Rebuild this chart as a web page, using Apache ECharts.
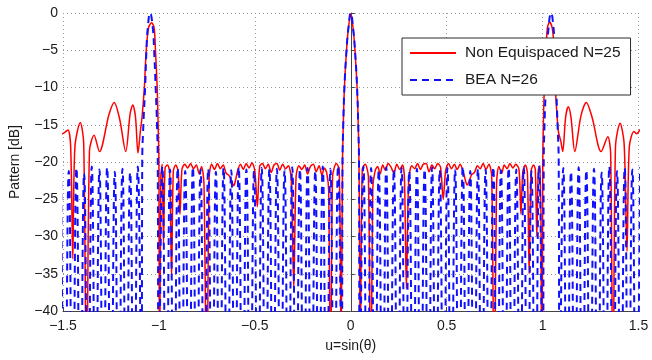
<!DOCTYPE html>
<html>
<head>
<meta charset="utf-8">
<script src="https://cdn.jsdelivr.net/npm/echarts@6/dist/echarts.min.js"></script>
<style>
  html, body { margin: 0; padding: 0; background: #fff; }
  #chart { width: 652px; height: 360px; }
</style>
</head>
<body>
<div id="chart"></div>
<script>
// tick values
var xTicks = [-1.5, -1, -0.5, 0, 0.5, 1, 1.5];
var yTicks = [-40, -35, -30, -25, -20, -15, -10, -5, 0];

// --- Non Equispaced N=25 (red), [u, dB] ---
var neLeftOuter = [[-1.51,-16.3],[-1.495,-16.1],[-1.474,-15.7],[-1.46,-18],[-1.449,-33],[-1.438,-18],[-1.41,-14.7],[-1.392,-17.5],[-1.377,-55],[-1.362,-18.5],[-1.338,-16.4],[-1.31,-18.6],[-1.26,-13.6],[-1.233,-12.0],[-1.205,-14.2],[-1.173,-18.6],[-1.15,-13.5],[-1.136,-12.35],[-1.122,-14],[-1.109,-18.8]];
var neLeftLobe = [[-1.096,-15.7],[-1.088,-14],[-1.076,-10],[-1.066,-5],[-1.054,-2],[-1.038,-1.3],[-1.025,-2],[-1.018,-5],[-1.009,-10],[-1.004,-15],[-1.0,-20],[-0.997,-55]];
var neLeftInner = [[-0.99,-22],[-0.983,-20.3],[-0.976,-31],[-0.968,-20.8],[-0.955,-20.4],[-0.944,-21.5],[-0.934,-35.4],[-0.925,-21.2],[-0.912,-20.4],[-0.9,-21.3],[-0.89,-27],[-0.88,-21],[-0.865,-20.3],[-0.85,-20.8],[-0.835,-20.2],[-0.82,-20.9],[-0.805,-20.4],[-0.79,-21.6],[-0.778,-20.6],[-0.765,-23],[-0.751,-55],[-0.738,-22],[-0.725,-20.3],[-0.71,-21],[-0.695,-20.2],[-0.68,-20.9],[-0.665,-20.4],[-0.65,-21.5],[-0.635,-21.8],[-0.62,-22.6],[-0.61,-23.2],[-0.6,-22.4],[-0.59,-21.2],[-0.575,-20.3],[-0.56,-21],[-0.545,-20.2],[-0.53,-20.8],[-0.515,-20.1],[-0.5,-21.2],[-0.487,-26],[-0.475,-20.6],[-0.46,-20.2],[-0.445,-20.9],[-0.43,-20.3],[-0.415,-21.4],[-0.4,-20.4],[-0.385,-20.2],[-0.37,-21.1],[-0.355,-20.3],[-0.34,-20.9],[-0.325,-20.5],[-0.31,-22.5],[-0.297,-37],[-0.285,-22],[-0.27,-20.5],[-0.255,-21],[-0.24,-20.4],[-0.225,-21.6],[-0.21,-20.6],[-0.195,-20.3],[-0.18,-21.3],[-0.165,-20.5],[-0.15,-21.8],[-0.138,-20.8],[-0.125,-21.5],[-0.115,-24],[-0.105,-55],[-0.095,-22],[-0.075,-20.2],[-0.06,-21]];
var neMainLobe = [[-0.05,-45],[-0.043,-20],[-0.039,-15],[-0.033,-10],[-0.022,-5],[-0.012,-2],[0,-0.1],[0.012,-2],[0.022,-5],[0.033,-10],[0.039,-15],[0.043,-20],[0.05,-45]];
var neRightInner = [[0.06,-21],[0.075,-20.3],[0.092,-22],[0.104,-55],[0.115,-23.5],[0.127,-21.2],[0.14,-20.6],[0.153,-21.6],[0.167,-20.4],[0.18,-21.1],[0.195,-20.2],[0.21,-20.7],[0.225,-21.5],[0.24,-20.3],[0.255,-21],[0.27,-20.4],[0.28,-22.3],[0.29,-37],[0.302,-22.5],[0.318,-20.5],[0.333,-20.9],[0.348,-20.2],[0.363,-21],[0.378,-20.3],[0.393,-20.2],[0.408,-21.3],[0.423,-20.4],[0.438,-20.9],[0.453,-20.2],[0.468,-20.7],[0.482,-25],[0.495,-21.1],[0.51,-20.2],[0.525,-20.9],[0.54,-20.3],[0.555,-21],[0.57,-20.3],[0.585,-21.2],[0.597,-22.4],[0.607,-23.1],[0.617,-22.6],[0.63,-21.7],[0.645,-21.4],[0.66,-20.5],[0.675,-20.9],[0.69,-20.2],[0.705,-21],[0.72,-20.3],[0.735,-22],[0.748,-55],[0.76,-23],[0.772,-20.6],[0.787,-21.5],[0.8,-20.4],[0.815,-20.9],[0.83,-20.2],[0.845,-20.8],[0.86,-20.3],[0.877,-21],[0.887,-27],[0.897,-21.3],[0.91,-20.4],[0.921,-21.5],[0.93,-35],[0.94,-21.2],[0.953,-20.4],[0.962,-21],[0.97,-30],[0.978,-21],[0.988,-20.5],[0.996,-55]];
var neRightLobe = [[1.001,-20],[1.004,-15],[1.009,-10],[1.018,-5],[1.025,-2],[1.037,-1.2],[1.05,-2],[1.058,-4],[1.064,-8],[1.069,-11.2],[1.076,-14],[1.083,-16]];
var neRightOuter = [[1.095,-17.2],[1.105,-18.6],[1.12,-14],[1.134,-12.6],[1.148,-14],[1.168,-18.6],[1.2,-13.8],[1.228,-12.0],[1.258,-14],[1.305,-18.6],[1.34,-16.6],[1.355,-19],[1.367,-55],[1.38,-18],[1.404,-14.8],[1.425,-17.5],[1.44,-32],[1.452,-18],[1.476,-15.9],[1.49,-16.2],[1.51,-15.6]];

// --- BEA N=26 (blue dashed), [u, dB]; nulls fall far below the -40 floor ---
var beaLeftOuter = [[-1.51,-21.0],[-1.49,-60],[-1.47,-21.2],[-1.45,-60],[-1.43,-20.8],[-1.41,-60],[-1.39,-21.5],[-1.37,-60],[-1.35,-20.6],[-1.33,-60],[-1.31,-21.0],[-1.29,-60],[-1.27,-20.7],[-1.25,-60],[-1.23,-21.3],[-1.21,-60],[-1.19,-20.9],[-1.17,-60],[-1.15,-21.4],[-1.13,-60],[-1.11,-20.6],[-1.09,-60]];
var beaLeftLobe = [[-1.087,-20],[-1.081,-15],[-1.072,-10],[-1.065,-5],[-1.058,-2],[-1.046,0],[-1.032,-2],[-1.025,-5],[-1.017,-10],[-1.01,-15],[-1.006,-20],[-1.002,-60]];
var beaLeftInner = [[-0.982,-20.6],[-0.962,-60],[-0.942,-21.0],[-0.922,-60],[-0.902,-20.8],[-0.883,-60],[-0.863,-21.2],[-0.843,-60],[-0.823,-20.7],[-0.803,-60],[-0.783,-21.0],[-0.763,-60],[-0.743,-20.9],[-0.723,-60],[-0.703,-21.3],[-0.683,-60],[-0.663,-20.8],[-0.643,-60],[-0.623,-21.1],[-0.604,-60],[-0.584,-20.7],[-0.564,-60],[-0.544,-21.0],[-0.524,-60],[-0.504,-21.2],[-0.484,-60],[-0.464,-20.8],[-0.444,-60],[-0.424,-21.0],[-0.405,-60],[-0.385,-20.9],[-0.365,-60],[-0.345,-21.1],[-0.325,-60],[-0.305,-20.7],[-0.285,-60],[-0.265,-21.0],[-0.245,-60],[-0.225,-20.8],[-0.205,-60],[-0.185,-21.2],[-0.166,-60],[-0.146,-20.6],[-0.126,-60],[-0.106,-20.9],[-0.086,-60],[-0.066,-20.5],[-0.046,-60]];
var beaMainLobe = [[-0.043,-20],[-0.039,-15],[-0.033,-10],[-0.022,-5],[-0.012,-2],[0,0],[0.012,-2],[0.022,-5],[0.033,-10],[0.039,-15],[0.043,-20],[0.046,-60]];
var beaRightInner = [[0.066,-20.6],[0.086,-60],[0.106,-20.8],[0.126,-60],[0.146,-21.1],[0.166,-60],[0.185,-20.7],[0.205,-60],[0.225,-21.0],[0.245,-60],[0.265,-20.8],[0.285,-60],[0.305,-21.2],[0.325,-60],[0.345,-20.9],[0.365,-60],[0.385,-21.0],[0.405,-60],[0.424,-20.7],[0.444,-60],[0.464,-21.1],[0.484,-60],[0.504,-20.8],[0.524,-60],[0.544,-21.0],[0.564,-60],[0.584,-20.6],[0.604,-60],[0.623,-21.2],[0.643,-60],[0.663,-20.9],[0.683,-60],[0.703,-21.0],[0.723,-60],[0.743,-20.7],[0.763,-60],[0.783,-21.1],[0.803,-60],[0.823,-20.8],[0.843,-60],[0.863,-21.0],[0.883,-60],[0.902,-20.7],[0.922,-60],[0.942,-21.2],[0.962,-60],[0.982,-20.6],[1.002,-60]];
var beaRightLobe = [[1.006,-20],[1.01,-15],[1.017,-10],[1.025,-5],[1.031,-2],[1.044,0],[1.057,-2],[1.064,-5],[1.071,-10],[1.078,-15],[1.084,-20],[1.088,-60]];
var beaRightOuter = [[1.108,-20.8],[1.128,-60],[1.148,-21.3],[1.168,-60],[1.188,-20.7],[1.208,-60],[1.228,-21.1],[1.248,-60],[1.268,-20.9],[1.288,-60],[1.308,-21.4],[1.328,-60],[1.348,-20.6],[1.368,-60],[1.388,-21.2],[1.408,-60],[1.428,-20.8],[1.448,-60],[1.468,-21.0],[1.488,-60],[1.508,-20.7]];

var neData = [].concat(neLeftOuter, neLeftLobe, neLeftInner, neMainLobe, neRightInner, neRightLobe, neRightOuter);
var beaData = [].concat(beaLeftOuter, beaLeftLobe, beaLeftInner, beaMainLobe, beaRightInner, beaRightLobe, beaRightOuter);

var font = 'Liberation Sans, Arial, sans-serif';
var ink = '#1a1a1a';
var axisGray = '#444';
var gridGray = '#9a9a9a';

function minus(v) {
  return (v < 0 ? '\u2212' : '') + Math.abs(v);
}

var chart = echarts.init(document.getElementById('chart'), null, { renderer: 'canvas' });
chart.setOption({
  animation: false,
  backgroundColor: '#fff',
  grid: { left: 53.5, right: 13.5, top: 13, bottom: 49, containLabel: false },
  legend: {
    orient: 'vertical',
    left: 402,
    top: 38,
    itemWidth: 46,
    itemHeight: 14,
    itemGap: 11,
    padding: [7, 10, 7, 7],
    backgroundColor: '#fff',
    borderColor: '#2a2a2a',
    borderWidth: 1,
    borderRadius: 0,
    itemStyle: { opacity: 0 },
    textStyle: { color: ink, fontSize: 15.5, fontFamily: font, padding: [0, 0, 0, 4] },
    data: ['Non Equispaced N=25', 'BEA N=26']
  },
  xAxis: {
    type: 'value',
    min: xTicks[0],
    max: xTicks[xTicks.length - 1],
    interval: 0.5,
    name: 'u=sin(\u03b8)',
    nameLocation: 'middle',
    nameGap: 28,
    nameTextStyle: { color: ink, fontSize: 14, fontFamily: font },
    axisLine: { onZero: false, lineStyle: { color: axisGray, width: 1 } },
    axisTick: { inside: true, length: 4, lineStyle: { color: axisGray } },
    axisLabel: { color: ink, fontSize: 14, fontFamily: font, margin: 8, formatter: minus },
    splitLine: { show: true, lineStyle: { color: gridGray, type: [1, 3], width: 1 } }
  },
  yAxis: {
    type: 'value',
    min: yTicks[0],
    max: yTicks[yTicks.length - 1],
    interval: 5,
    name: 'Pattern [dB]',
    nameLocation: 'middle',
    nameRotate: 90,
    nameGap: 41,
    nameTextStyle: { color: ink, fontSize: 14, fontFamily: font },
    axisLine: { show: true, lineStyle: { color: axisGray, width: 1 } },
    axisTick: { show: true, inside: true, length: 4, lineStyle: { color: axisGray } },
    axisLabel: { color: ink, fontSize: 14, fontFamily: font, margin: 5, formatter: minus },
    splitLine: { show: true, lineStyle: { color: gridGray, type: [1, 3], width: 1 } }
  },
  series: [
    {
      name: 'Non Equispaced N=25',
      type: 'line',
      data: neData,
      symbol: 'none',
      smooth: 0.3,
      clip: true,
      lineStyle: { color: '#ff0000', width: 1.5 },
      itemStyle: { color: '#ff0000' }
    },
    {
      name: 'BEA N=26',
      type: 'line',
      data: beaData,
      symbol: 'none',
      smooth: 0.5,
      clip: true,
      lineStyle: { color: '#1010ff', width: 2, type: [7, 5] },
      itemStyle: { color: '#1010ff' }
    }
  ]
});
</script>
</body>
</html>
